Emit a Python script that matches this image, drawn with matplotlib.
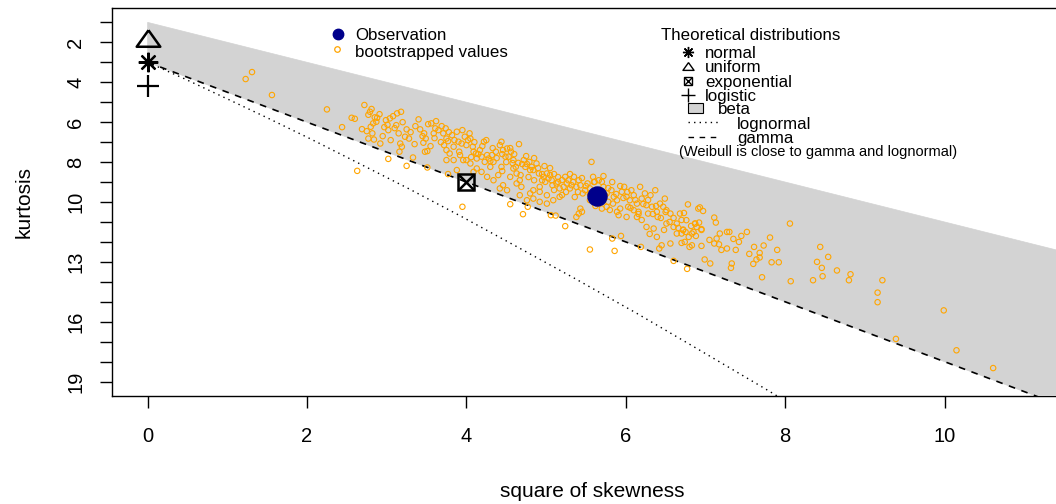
import matplotlib
matplotlib.use("Agg")
import matplotlib.pyplot as plt
from matplotlib.lines import Line2D
from matplotlib.patches import Rectangle

plt.rcParams['font.family'] = ['Liberation Sans', 'DejaVu Sans']

# observed sample
obs_s2 = [5.64]
obs_kurt = [9.70]

# bootstrapped (square of skewness, kurtosis) pairs
boot_s2 = [1.23, 1.31, 1.56,
    2.25, 2.44, 2.56, 2.60, 2.72, 2.77, 2.79, 2.81, 2.85, 2.88, 2.91, 2.83, 2.87, 2.69, 2.75, 2.80, 2.82, 2.77, 2.84, 2.92,
    2.99, 3.01, 3.02, 3.04, 3.08, 3.13, 3.18, 3.12, 3.15, 3.17, 3.19, 3.16, 3.25, 3.23, 3.28, 3.33, 3.02, 3.25,
    3.40, 3.42, 3.47, 3.49, 3.46, 3.48, 3.51, 3.52, 3.56, 3.59, 3.61, 3.65, 3.69, 3.71, 3.74, 3.75, 3.72, 3.75, 3.77,
    3.82, 3.84, 3.88, 3.90, 3.91, 3.94, 3.96, 3.98,
    4.00, 4.04, 4.05, 4.08, 4.09, 4.12, 4.13, 4.17, 4.19, 4.22, 4.23, 4.26, 4.28, 4.30, 4.32, 4.34, 4.37, 4.42, 4.44,
    4.46, 4.49, 4.51, 4.53, 4.56, 4.59, 4.59, 4.62, 4.65, 4.68, 4.72, 4.74, 4.76, 4.79, 4.82, 4.84, 4.85, 4.88, 4.91,
    4.92, 4.95, 4.97, 4.99,
    5.01, 5.03, 5.05, 5.07, 5.08, 5.10, 5.13, 5.15, 5.17, 5.22, 5.24, 5.26, 5.28, 5.30, 5.32, 5.35, 5.38, 5.41, 5.43,
    5.46, 5.49, 5.52, 5.55, 5.57, 5.59, 5.61, 5.66, 5.70, 5.72, 5.76, 5.78, 5.82, 5.85, 5.89, 5.91, 5.95, 5.98,
    6.01, 6.05, 6.07, 6.10, 6.14, 6.18, 6.20, 6.24, 6.26, 6.31, 6.33, 6.37, 6.40, 6.43, 6.47, 6.49, 6.51, 6.56, 6.60,
    6.64, 6.68, 6.70, 6.72, 6.76, 6.79, 6.83, 6.87, 6.91, 6.89,
    6.56, 6.45, 6.39, 6.35, 6.26, 6.14, 6.01, 5.89, 6.10, 5.76, 5.70, 5.64, 5.45, 5.41, 5.43, 5.38, 5.55, 5.68, 5.74,
    5.09, 5.17, 5.01, 4.92, 4.84, 4.80, 4.69, 4.67, 4.63, 4.51, 4.46, 4.42, 4.34, 4.40, 4.26, 4.19, 4.13, 4.05, 4.00,
    3.92, 3.84, 3.79, 3.75, 4.09, 4.44, 4.55, 4.63, 4.92, 5.01, 4.84, 4.76, 4.67, 5.84, 5.93, 6.03, 6.16, 6.28, 6.39,
    6.51, 6.64, 6.74, 6.85,
    2.63, 3.51, 3.77, 3.88, 3.95, 4.55, 4.71, 4.77, 5.06, 5.12, 5.24, 5.55, 5.86, 5.83, 5.94, 6.19, 6.60, 6.77, 6.42,
    6.78, 8.06, 8.44, 8.54, 8.40, 8.46, 8.47, 8.35, 8.65, 8.82, 8.80, 9.22, 9.16, 9.16, 9.99, 9.39, 10.15, 10.61,
    8.07, 7.71, 7.83, 7.92, 7.90, 7.73, 7.81, 7.61, 7.68, 7.68, 7.64, 7.52, 7.38, 7.33, 7.32, 7.27, 7.35, 7.30, 7.17,
    7.11, 7.06, 6.99, 6.95, 6.80, 6.70, 7.18, 7.14, 7.27, 7.11, 7.13, 6.92, 6.87, 6.93, 6.97, 6.95, 6.73, 6.72, 6.83,
    3.05, 3.10, 3.20, 3.30, 3.35, 3.45, 3.55, 3.60, 3.68, 3.78, 3.85, 3.95, 3.62, 3.36, 2.95, 2.97,
    4.02, 4.10, 4.15, 4.20, 4.25, 4.33, 4.38, 4.45, 4.50, 4.55, 4.60, 4.66, 4.70, 4.75, 4.80, 4.85, 4.90, 4.95, 4.45,
    4.30, 4.06, 4.58, 4.78, 4.98,
    5.05, 5.10, 5.15, 5.20, 5.25, 5.30, 5.34, 5.40, 5.45, 5.50, 5.55, 5.60, 5.68, 5.72, 5.78, 5.83, 5.88, 5.93, 5.97,
    5.20, 5.36, 5.62, 5.80,
    6.02, 6.06, 6.12, 6.16, 6.22, 6.28, 6.34, 6.38, 6.44, 6.50, 6.55, 6.60, 6.66, 6.70, 6.75, 6.82, 6.88, 6.95, 6.20,
    6.48, 6.30,
    7.05, 7.20, 7.42, 7.55, 7.45, 7.60]

boot_kurt = [3.84, 3.49, 4.64,
    5.36, 6.25, 5.78, 5.83, 5.14, 5.63, 5.48, 5.34, 5.76, 5.78, 5.60, 6.06, 5.98, 6.35, 6.45, 6.23, 6.56, 6.82, 6.87, 7.07,
    5.90, 6.13, 6.40, 5.81, 5.70, 5.56, 5.48, 6.15, 6.56, 7.07, 7.23, 7.48, 6.36, 6.73, 6.82, 7.77, 7.84, 8.19,
    5.86, 6.36, 6.56, 6.82, 7.03, 7.48, 7.45, 6.10, 6.06, 6.56, 6.31, 6.40, 6.20, 6.56, 6.31, 6.82, 7.15, 7.40, 6.95,
    6.65, 7.23, 6.48, 6.98, 7.48, 7.07, 7.90, 6.73,
    7.15, 6.56, 6.82, 7.23, 7.48, 7.57, 7.82, 7.40, 7.73, 6.98, 7.99, 7.65, 7.82, 8.24, 7.65, 7.99, 7.48, 7.15, 6.98,
    7.40, 7.73, 7.32, 7.73, 7.48, 7.90, 8.32, 8.24, 8.04, 8.65, 7.90, 8.24, 8.10, 7.99, 8.24, 8.40, 8.91, 8.07, 8.57,
    9.24, 8.91, 8.74, 8.99,
    8.57, 8.82, 8.65, 8.91, 9.16, 8.60, 9.07, 8.99, 9.32, 9.24, 8.74, 9.07, 8.91, 9.32, 9.16, 8.74, 9.24, 8.91, 9.16,
    9.57, 9.41, 9.07, 9.32, 7.99, 8.74, 8.99, 8.91, 8.99, 9.24, 9.57, 9.99, 9.41, 9.74, 9.91, 10.66, 9.49, 9.24,
    9.74, 9.91, 9.41, 9.66, 10.08, 9.24, 9.83, 9.57, 10.16, 9.66, 10.24, 9.41, 10.75, 10.08, 10.24, 9.83, 11.08, 10.58,
    11.25, 11.08, 10.58, 11.58, 11.41, 10.91, 11.75, 12.17, 11.08, 10.33, 11.25,
    12.08, 12.17, 11.75, 11.33, 11.25, 10.75, 10.75, 10.49, 10.41, 10.24, 10.33, 10.08, 10.49, 10.58, 10.33, 10.75,
    9.91, 9.74, 9.66, 9.91, 9.74, 10.08, 9.99, 9.41, 9.57, 9.24, 8.91, 9.07, 9.41, 9.16, 9.32, 8.91, 8.65, 8.74, 8.49,
    8.32, 8.07, 7.90, 7.65, 7.90, 7.57, 7.90, 8.49, 8.24, 8.74, 8.57, 9.49, 9.66, 9.83, 9.91, 9.66, 10.08, 10.33, 10.24,
    10.49, 10.58, 10.49, 10.41, 11.58, 12.00, 11.50,
    8.44, 8.27, 8.60, 8.40, 10.24, 10.11, 10.61, 10.24, 10.66, 10.68, 11.21, 12.38, 12.45, 11.83, 11.70, 12.25, 12.95,
    13.35, 12.33,
    10.12, 11.08, 12.25, 12.75, 13.00, 13.30, 13.72, 13.92, 13.43, 13.62, 13.92, 13.92, 14.54, 15.02, 15.43, 16.86,
    17.43, 18.32, 13.97, 13.77, 13.02, 13.02, 12.40, 12.18, 11.78, 12.25, 12.55, 12.78, 12.88, 11.50, 12.40, 13.08,
    13.30, 12.33, 11.85, 11.50, 12.12, 12.08, 13.08, 12.88, 12.20, 12.25, 12.05, 11.58, 11.83, 11.50, 10.78, 11.03,
    11.03, 11.08, 10.27, 10.45, 11.36, 10.55, 11.38, 11.58,
    6.90, 6.30, 6.00, 6.50, 7.10, 6.70, 7.20, 6.80, 7.00, 6.50, 6.90, 6.40, 5.95, 6.20, 6.70, 6.25,
    6.90, 7.00, 7.60, 7.20, 6.90, 7.30, 7.80, 7.60, 8.00, 7.30, 7.60, 7.10, 8.10, 7.70, 8.40, 7.80, 8.30, 8.60, 8.45,
    7.95, 7.75, 8.05, 8.75, 8.20,
    8.30, 9.40, 8.75, 8.90, 9.50, 8.60, 9.00, 9.50, 8.80, 9.20, 9.60, 9.00, 9.40, 8.70, 9.30, 9.00, 9.60, 9.20, 9.80,
    9.65, 9.75, 10.20, 10.40,
    9.50, 10.30, 9.90, 10.60, 10.10, 9.90, 10.60, 10.20, 10.80, 10.50, 11.00, 10.80, 11.30, 10.90, 11.50, 11.20, 11.70,
    11.40, 10.90, 11.40, 11.60,
    11.90, 12.40, 12.00, 12.60, 11.70, 13.10]

# theoretical distributions
norm_pt = (0, 3.0)
unif_pt = (0, 1.8)
expo_pt = (4, 9.0)
logis_pt = (0, 4.2)

# beta region (between the limit line and the gamma line)
beta_s2 = [0, 14, 14, 0]
beta_kurt = [1, 15, 24, 3]

# lognormal curve
lnorm_s2 = [0, 0.47, 0.96, 1.49, 2.05, 2.64, 3.27, 3.93, 4.62, 5.36, 6.13, 6.93, 7.78, 8.66]
lnorm_kurt = [3, 3.84, 4.76, 5.76, 6.85, 8.04, 9.32, 10.71, 12.21, 13.83, 15.56, 17.43, 19.43, 21.56]

# gamma line
gamma_s2 = [0, 14]
gamma_kurt = [3, 24]

xticks = [0, 2, 4, 6, 8, 10]
yticks = list(range(1, 20))
ylabels = ['', '2', '', '4', '', '6', '', '8', '', '10', '', '', '13', '', '', '16', '', '', '19']

W, H = 1056, 504
fig = plt.figure(figsize=(W / 100, H / 100), dpi=100)
ax = fig.add_axes([112 / W, 1 - 396 / H, 961 / W, 388 / H])

ax.fill(beta_s2, beta_kurt, color='lightgrey', ec='lightgrey', lw=0.5, zorder=1)
ax.plot(lnorm_s2, lnorm_kurt, color='black', lw=1.0, ls=(0, (1, 3)), zorder=2)
ax.plot(gamma_s2, gamma_kurt, color='black', lw=1.2, ls=(0, (4, 4)), zorder=2)

ax.scatter(boot_s2, boot_kurt, s=15, facecolors='none', edgecolors='orange', linewidths=0.8, zorder=3)

# theoretical points
ax.plot(*norm_pt, marker=(8, 2, 0), ms=14, mew=1.6, color='black', zorder=4)
tri = [(0, 0.7), (-1, -0.7), (1, -0.7), (0, 0.7)]
ax.plot(*unif_pt, marker=tri, ms=17, mew=1.8, mfc='none', mec='black', zorder=4)
ax.plot(*expo_pt, marker='s', ms=12, mew=1.8, mfc='none', mec='black', zorder=4)
ax.plot(*expo_pt, marker='x', ms=12, mew=1.8, color='black', zorder=4)
ax.plot(*logis_pt, marker='+', ms=16, mew=1.6, color='black', zorder=4)

ax.plot(obs_s2, obs_kurt, 'o', ms=13.7, color='darkblue', zorder=5)

ax.set_xlim(-0.447, 11.612)
ax.set_ylim(19.72, 0.28)
ax.set_xticks(xticks)
ax.set_xticklabels([str(v) for v in xticks])
ax.set_yticks(yticks)
ax.set_yticklabels(ylabels, rotation=90, va='center')
ax.tick_params(direction='out', length=8.6, width=1.0, labelsize=14.5, colors='black')
ax.tick_params(axis='x', pad=14)
ax.tick_params(axis='y', pad=10.5)
for sp in ax.spines.values():
    sp.set_linewidth(1.0)
    sp.set_zorder(0.5)

ax.set_xlabel('square of skewness', fontsize=15)
ax.set_ylabel('kurtosis', fontsize=15)
ax.xaxis.set_label_coords(0.5, -0.2216)
ax.yaxis.set_label_coords(-0.082, 0.5)


# legends, placed in pixel positions of the figure
def fx(x):
    return x / W


def fy(y):
    return 1 - y / H


def key(x, y, **kw):
    fig.add_artist(Line2D([fx(x)], [fy(y)], transform=fig.transFigure, ls='none', **kw))


lfs = 12.2
key(338, 34, marker='o', ms=7.5, color='darkblue')
fig.text(fx(355), fy(35), 'Observation', fontsize=lfs, va='center')
key(337, 49, marker='o', ms=4, mfc='none', mec='orange', mew=0.9)
fig.text(fx(355), fy(52), 'bootstrapped values', fontsize=lfs, va='center')

fig.text(fx(661), fy(36), 'Theoretical distributions', fontsize=lfs, va='center')
key(688, 52, marker=(8, 2, 0), ms=8, mew=1.0, color='black')
fig.text(fx(705), fy(53), 'normal', fontsize=lfs, va='center')
key(688, 66, marker=tri, ms=8, mew=1.0, mfc='none', mec='black')
fig.text(fx(705), fy(67), 'uniform', fontsize=lfs, va='center')
key(688, 81, marker='s', ms=5.5, mew=1.0, mfc='none', mec='black')
key(688, 81, marker='x', ms=5.5, mew=1.0, color='black')
fig.text(fx(705), fy(83), 'exponential', fontsize=lfs, va='center')
key(688, 95, marker='+', ms=10, mew=1.0, color='black')
fig.text(fx(705), fy(97), 'logistic', fontsize=lfs, va='center')
fig.add_artist(Rectangle((fx(688), fy(113)), 15 / W, 10 / H, transform=fig.transFigure,
                         fc='lightgrey', ec='black', lw=0.8))
fig.text(fx(718), fy(110), 'beta', fontsize=lfs, va='center')
fig.add_artist(Line2D([fx(688), fx(718)], [fy(122), fy(122)], transform=fig.transFigure,
                      color='black', lw=1.0, ls=(0, (1, 3))))
fig.text(fx(737), fy(125), 'lognormal', fontsize=lfs, va='center')
fig.add_artist(Line2D([fx(688), fx(718)], [fy(137), fy(137)], transform=fig.transFigure,
                      color='black', lw=1.0, ls=(0, (4, 4))))
fig.text(fx(737), fy(139), 'gamma', fontsize=lfs, va='center')
fig.text(fx(679), fy(152), '(Weibull is close to gamma and lognormal)', fontsize=10.5, va='center')

fig.savefig('out.png', dpi=100)
